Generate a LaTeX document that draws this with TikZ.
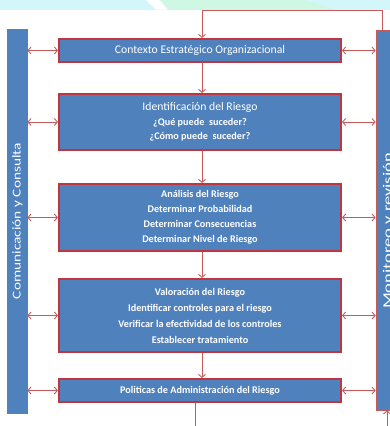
\documentclass[tikz,border=0pt]{standalone}
\usepackage{fontspec}
\setmainfont{Carlito}
\usetikzlibrary{arrows.meta}
\definecolor{boxblue}{HTML}{4F81BD}
\definecolor{boxred}{HTML}{BF3540}
\definecolor{linered}{HTML}{C65A5A}
\definecolor{skycyan}{HTML}{D3F6FB}
\definecolor{skygreen}{HTML}{CEF7E4}
\newcommand{\subl}[1]{{\bfseries\fontsize{10.2}{16}\selectfont #1}}
\begin{document}
\begin{tikzpicture}[x=1pt,y=-1pt,
  stepbox/.style={draw=boxred, line width=1.6pt, fill=boxblue, minimum width=282.5pt,
    text=white, align=center, inner sep=0pt},
  sidebar/.style={draw=linered, line width=0.8pt, fill=boxblue, inner sep=0pt},
  bartext/.style={text=white, rotate=90, inner sep=0pt},
  conn/.style={draw=linered, line width=0.9pt},
  tip/.style={-{Straight Barb[length=3pt,width=7pt]}},
  dtip/.style={{Straight Barb[length=3pt,width=7pt]}-{Straight Barb[length=3pt,width=7pt]}},
  big/.style={font=\fontsize{11.7}{14}\selectfont},
  sml/.style={font=\bfseries\fontsize{10.2}{15}\selectfont}
]
\useasboundingbox (0,0) rectangle (390,426);
\clip (0,0) rectangle (390,426);
% background strip
\fill[skycyan] (0,0) rectangle (390,9.5);
\fill[white] (146,0) -- (160,0) -- (168,9.5) -- (156,9.5) -- cycle;
\fill[skygreen] (160,0) -- (305,0) -- (335,9.5) -- (168,9.5) -- cycle;

% side bars
\node[sidebar, minimum width=20pt, minimum height=384pt] (lbar) at (17,221) {};
\node[sidebar, minimum width=22pt, minimum height=380pt] (rbar) at (387,220) {};
\node[bartext, font=\fontsize{12}{14}\selectfont] (ltext) at (17.5,221) {\scalebox{1.28}[1]{Comunicación y Consulta}};
\node[bartext, font=\fontsize{13}{15}\selectfont] (rtext) at (388.5,231) {\scalebox{1.42}[1]{Monitoreo y revisión}};

% boxes
\node[stepbox, minimum height=23.5pt, big] (b1) at (200,50.5) {Contexto Estratégico Organizacional};
\node[stepbox, minimum height=56.5pt, big] (b2) at (200,122)
  {Identificación del Riesgo\\[1pt]
   \subl{¿Qué puede \ suceder?}\\[0pt] \subl{¿Cómo puede \ suceder?}};
\node[stepbox, minimum height=67.5pt, sml] (b3) at (200,217.5)
  {Análisis del Riesgo\\ Determinar Probabilidad\\ Determinar Consecuencias\\ Determinar Nivel de Riesgo};
\node[stepbox, minimum height=73.5pt, font=\bfseries\fontsize{10.2}{16}\selectfont] (b4) at (200,315.5)
  {Valoración del Riesgo\\ Identificar controles para el riesgo\\ Verificar la efectividad de los controles\\ Establecer tratamiento};
\node[stepbox, minimum height=23.5pt, sml] (b5) at (200,390.5) {Politicas de Administración del Riesgo};

% vertical flow
\draw[conn,tip] ([xshift=2pt]b1.south) -- ([xshift=2pt]b2.north);
\draw[conn,tip] ([xshift=2pt]b2.south) -- ([xshift=2pt]b3.north);
\draw[conn,tip] ([xshift=2pt]b3.south) -- ([xshift=2pt]b4.north);
\draw[conn,tip] ([xshift=2pt]b4.south) -- ([xshift=2pt]b5.north);

% feedback loop at top
\coordinate (tr) at (382,10);
\coordinate (tl) at (202,10);
\draw[conn,tip] ([xshift=-5pt]rbar.north) -- (tr) -- (tl) -- (tl |- b1.north);

% bottom lines
\coordinate (bl) at (195,430);
\coordinate (br) at (387,430);
\draw[conn] ([xshift=-5pt]b5.south) -- (bl);
\draw[conn,tip] (br) -- (rbar.south);

% side double arrows
\foreach \b in {b1,b2,b3,b4,b5}{
  \draw[conn,dtip] (lbar.east |- \b.west) -- (\b.west);
  \draw[conn,dtip] (\b.east) -- (rbar.west |- \b.east);
}
\end{tikzpicture}
\end{document}
